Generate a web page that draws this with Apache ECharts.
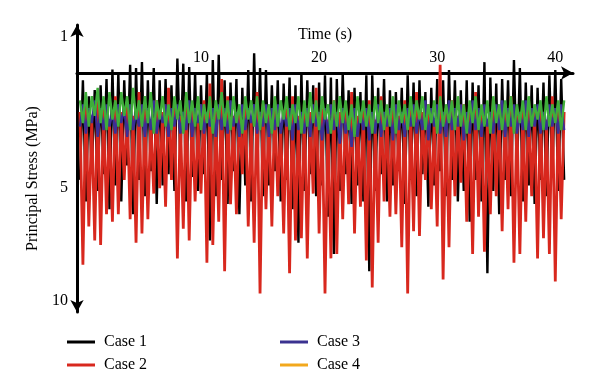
<!DOCTYPE html>
<html>
<head>
<meta charset="utf-8">
<script src="https://cdn.jsdelivr.net/npm/echarts@6/dist/echarts.min.js"></script>
<style>
  html, body { margin: 0; padding: 0; background: #fff; }
  #chart { width: 600px; height: 390px; }
</style>
</head>
<body>
<div id="chart"></div>
<script>
// sampling of the time axis (s)
const t0 = -0.25;
const dt = 0.25;

const xTicks = [10, 20, 30, 40];
const yTicks = [1, 5, 10];

const seriesNames = ["Case 1", "Case 2", "Case 3", "Case 4"];

// principal stress (MPa), one value per time step
const case1 = [
  4.7,1.83, 5.5,2.2, 4.4,2.05, 5.1,1.94, 4.5,1.8, 5.8,1.6, 4.9,1.67, 5.5,1.83, 4.2,1.5, 6.0,1.57,
  4.7,1.45, 5.3,1.83, 4.4,1.57, 5.6,1.83, 4.9,1.8, 4.5,1.94, 5.1,1.38, 4.0,1.48, 5.5,1.55, 4.6,1.67,
  5.1,1.94, 4.5,1.67, 7.1,1.41, 5.3,1.31, 4.7,1.83, 5.6,1.88, 4.4,1.8, 6.0,2.0, 4.9,1.61, 5.5,1.28,
  4.5,1.57, 5.3,1.61, 4.9,1.94, 4.4,1.83, 5.5,1.9, 4.7,1.77, 5.8,1.94, 7.2,1.65, 5.1,1.83, 4.5,1.94,
  5.3,1.88, 4.9,1.72, 6.1,1.77, 7.7,1.8, 5.1,1.67, 4.5,2.06, 5.6,2.0, 4.9,2.1, 5.5,1.72, 8.5,1.72,
  5.1,2.0, 4.5,1.8, 5.5,2.06, 4.9,2.1, 4.4,2.0, 5.6,1.72, 4.7,1.88, 5.3,1.83, 4.5,2.1, 5.7,2.0,
  4.9,1.8, 4.4,1.83, 5.3,1.61, 4.7,1.83, 5.5,2.06, 5.1,1.83, 6.3,1.88, 4.7,1.94, 5.5,1.45, 8.6,1.77,
  5.1,1.9, 6.0,1.8, 4.7,1.83, 5.3,1.41, 4.5,1.57, 5.5,1.88, 4.9,1.94, 5.6,2.0, 4.7,1.88, 5.3,1.72,
  4.5,1.61, 5.1,1.8, 4.7
];

const case2 = [
  2.6,8.2, 2.4,6.5, 2.8,7.1, 2.3,7.3, 2.5,6.0, 2.9,6.3, 2.2,6.0, 2.6,4.7, 2.4,6.2, 2.7,7.2,
  2.1,6.8, 2.5,6.2, 2.8,5.2, 2.3,5.0, 2.6,5.7, 2.0,4.7, 2.4,7.9, 2.7,6.6, 2.2,7.1, 2.5,5.5,
  2.9,5.2, 2.3,8.1, 1.9,7.3, 2.6,6.3, 1.8,8.5, 2.2,5.6, 2.7,6.0, 2.5,4.5, 2.3,6.5, 2.8,7.2,
  2.1,9.6, 2.4,5.8, 2.6,6.5, 2.3,5.3, 2.9,6.8, 2.5,8.6, 2.2,7.1, 2.7,7.0, 2.4,7.9, 2.6,5.2,
  2.0,6.8, 2.5,9.6, 2.8,7.9, 2.3,7.7, 2.6,6.2, 2.4,5.6, 2.1,6.8, 2.7,5.7, 2.5,8.0, 2.3,9.3,
  2.8,7.2, 2.2,5.5, 2.6,6.1, 2.4,6.0, 2.7,7.4, 2.3,9.6, 2.5,6.7, 2.1,6.9, 2.6,4.7, 2.4,5.8,
  2.8,6.5, 1.5,8.9, 2.5,7.4, 2.3,5.3, 2.7,4.8, 2.4,6.3, 2.6,7.7, 2.1,6.1, 2.5,7.6, 2.8,6.0,
  2.3,5.3, 2.6,6.7, 2.4,5.8, 2.2,8.1, 2.7,7.7, 2.5,6.3, 2.3,5.3, 2.6,7.9, 2.4,7.0, 2.8,7.7,
  2.2,9.0, 2.5,6.2, 2.6
];

const case3 = [
  3.0,2.4, 3.2,2.5, 2.9,2.3, 3.3,2.5, 3.1,2.4, 3.0,2.6, 3.2,2.4, 2.9,2.5, 3.3,2.4, 3.1,2.6,
  3.0,2.4, 3.3,2.5, 3.1,2.3, 3.2,2.6, 2.9,2.4, 3.3,2.5, 3.0,2.4, 3.2,2.6, 3.1,2.3, 3.3,2.5,
  2.9,2.4, 3.2,2.6, 3.0,2.5, 3.3,2.4, 3.1,2.5, 3.2,2.3, 3.0,2.6, 3.3,2.4, 3.1,2.5, 2.9,2.4,
  3.2,2.6, 3.0,2.4, 3.3,2.5, 3.1,2.4, 3.2,2.6, 3.0,2.5, 3.4,2.4, 3.1,2.6, 3.2,2.5, 3.3,2.4,
  3.0,2.6, 3.4,2.5, 3.2,2.4, 3.1,2.6, 3.5,2.5, 3.2,2.7, 3.6,2.5, 3.3,2.6, 3.1,2.5, 3.4,2.6,
  3.2,2.4, 3.3,2.6, 3.0,2.5, 3.4,2.4, 3.1,2.6, 3.3,2.5, 3.0,2.4, 3.2,2.6, 3.1,2.3, 3.4,2.5,
  3.0,2.4, 3.2,2.6, 3.3,2.3, 3.1,2.5, 3.0,2.4, 3.4,2.6, 3.2,2.3, 3.1,2.5, 3.3,2.4, 3.0,2.6,
  3.2,2.4, 3.1,2.3, 3.3,2.5, 3.0,2.4, 3.2,2.6, 3.1,2.3, 3.3,2.5, 3.0,2.4, 3.2,2.6, 3.1,2.4,
  3.0,2.5, 3.2,2.4, 3.1
];

const case4 = [
  2.3,2.9, 2.1,3.0, 2.2,2.7, 2.0,2.9, 2.2,3.1, 2.1,2.8, 2.3,3.0, 2.1,2.7, 2.2,3.1, 2.0,2.8,
  2.3,3.0, 2.2,2.9, 2.1,3.2, 2.3,2.8, 2.2,3.0, 2.4,3.1, 2.2,2.8, 2.3,3.2, 2.1,2.9, 2.3,3.0,
  2.2,3.1, 2.4,2.9, 2.2,3.2, 2.3,2.8, 2.1,3.0, 2.3,3.1, 2.2,2.9, 2.4,3.2, 2.2,2.8, 2.3,3.0,
  2.2,3.1, 2.3,2.9, 2.4,3.2, 2.2,3.0, 2.3,2.8, 2.2,3.1, 2.4,2.9, 2.2,3.2, 2.3,3.0, 2.1,2.9,
  2.3,3.1, 2.2,2.8, 2.4,3.2, 2.3,3.0, 2.2,2.9, 2.3,3.1, 2.4,3.3, 2.2,2.9, 2.3,3.0, 2.4,3.2,
  2.2,2.9, 2.3,3.1, 2.4,3.0, 2.2,3.2, 2.3,2.9, 2.4,3.1, 2.2,3.0, 2.3,2.8, 2.2,3.1, 2.4,2.9,
  2.3,3.2, 2.2,3.0, 2.4,2.9, 2.3,3.1, 2.2,3.0, 2.4,3.2, 2.3,2.9, 2.2,3.1, 2.4,3.0, 2.3,3.2,
  2.2,2.9, 2.4,3.1, 2.3,3.0, 2.2,3.2, 2.4,2.9, 2.3,3.1, 2.2,3.0, 2.4,2.8, 2.3,3.1, 2.2,3.0,
  2.4,2.9, 2.3,3.1, 2.3
];

const lineColors = ["#000000", "#d8281e", "#3b2f96", "#3fae3a"];
const lineWidths = [2.4, 2.8, 2.4, 2.4];
const legendColors = ["#000000", "#d8281e", "#3b3290", "#f2a81d"];
const font = "Liberation Serif";

const time = case1.map((_, i) => t0 + dt * i);

// the stress axis is drawn on a square-root scale (1, 5, 10 ticks)
function toPoints(values) {
  return values.map((v, i) => [time[i], Math.sqrt(v)]);
}

const chart = echarts.init(document.getElementById("chart"));

const legendBase = {
  orient: "vertical",
  top: 334,
  padding: 0,
  icon: "rect",
  itemWidth: 28,
  itemHeight: 3,
  itemGap: 7,
  selectedMode: false,
  textStyle: { fontFamily: font, fontSize: 16, color: "#000", lineHeight: 16, padding: [0, 0, 0, 4] },
};

const option = {
  animation: false,
  backgroundColor: "#fff",
  legend: [
    Object.assign({}, legendBase, {
      left: 67,
      data: [
        { name: seriesNames[0], itemStyle: { color: legendColors[0] } },
        { name: seriesNames[1], itemStyle: { color: legendColors[1] } },
      ],
    }),
    Object.assign({}, legendBase, {
      left: 280,
      data: [
        { name: seriesNames[2], itemStyle: { color: legendColors[2] } },
        { name: seriesNames[3], itemStyle: { color: legendColors[3] } },
      ],
    }),
  ],
  grid: {
    left: 77,
    top: 25,
    width: 496,
    height: 287,
    containLabel: false,
  },
  xAxis: {
    type: "value",
    position: "top",
    offset: -48,
    min: -0.5,
    max: 41.5,
    name: "Time (s)",
    nameLocation: "middle",
    nameGap: 30,
    nameTextStyle: { fontFamily: font, fontSize: 16, color: "#000" },
    axisLine: {
      onZero: false,
      symbol: ["none", "arrow"],
      symbolSize: [10, 12],
      lineStyle: { color: "#000", width: 3 },
    },
    axisTick: { show: false },
    splitLine: { show: false },
    axisLabel: {
      customValues: xTicks,
      margin: 7,
      fontFamily: font,
      fontSize: 16,
      color: "#000",
    },
  },
  yAxis: {
    type: "value",
    inverse: true,
    min: 0.9,
    max: 3.25,
    name: "Principal Stress (MPa)",
    nameLocation: "middle",
    nameGap: 36,
    nameTextStyle: { fontFamily: font, fontSize: 16, color: "#000", padding: [0, 20, 0, 0] },
    axisLine: {
      onZero: false,
      symbol: ["arrow", "arrow"],
      symbolSize: [10, 12],
      lineStyle: { color: "#000", width: 3 },
    },
    axisTick: { show: false },
    splitLine: { show: false },
    axisLabel: {
      customValues: yTicks.map(Math.sqrt),
      formatter: (v) => String(Math.round(v * v)),
      margin: 9,
      fontFamily: font,
      fontSize: 16,
      color: "#000",
    },
  },
  series: [case1, case2, case3, case4].map((vals, i) => ({
    name: seriesNames[i],
    type: "line",
    data: toPoints(vals),
    showSymbol: false,
    symbol: "none",
    color: lineColors[i],
    lineStyle: { width: lineWidths[i], color: lineColors[i] },
    z: 2 + i,
  })),
};

chart.setOption(option);
</script>
</body>
</html>
